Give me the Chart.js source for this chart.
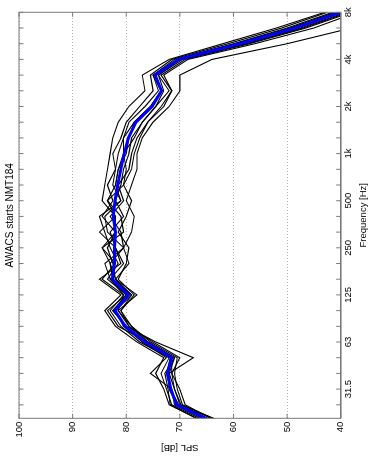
<!DOCTYPE html>
<html>
<head>
<meta charset="utf-8">
<title>AWACS starts NMT184</title>
<script src="https://cdn.jsdelivr.net/npm/chart.js@4.4.1/dist/chart.umd.min.js"></script>
<style>
  html, body { margin: 0; padding: 0; background: #fff; overflow: hidden; width: 369px; height: 456px; }
  /* The plot is laid out landscape and turned a quarter turn counter-clockwise */
  #wrap { position: absolute; left: 0; top: 0; width: 456px; height: 369px;
          transform-origin: 0 0; transform: translate(0, 456px) rotate(-90deg); }
  canvas { display: block; }
</style>
</head>
<body>
<div id="wrap"><canvas id="spl" width="456" height="369"></canvas></div>
<script>
// Third-octave band centres (Hz) and the labels shown on the frequency axis
const BAND_HZ = [20, 25, 31.5, 40, 50, 63, 80, 100, 125, 160, 200, 250, 315, 400, 500,
                 630, 800, 1000, 1250, 1600, 2000, 2500, 3150, 4000, 5000, 6300, 8000];
const BAND_LABELS = ['', '', '31.5', '', '', '63', '', '', '125', '', '', '250', '', '', '500',
                     '', '', '1k', '', '', '2k', '', '', '4k', '', '', '8k'];
const SPL_TICKS = [40, 50, 60, 70, 80, 90, 100];

// Mean spectrum (dB)
const MEAN_SPL = [64.4, 70.6, 71.7, 72.3, 71.5, 76.5, 80.2, 82.1, 79.6, 82.6, 82.2, 82.2, 82.0, 82.4, 82.1,
                  81.6, 81.0, 80.4, 79.6, 78.2, 75.2, 73.4, 74.6, 70.2, 58.8, 48.5, 40.0];

// Individual take-off runs (dB)
const RUN_01 = [65.5, 71.5, 72.5, 73.5, 72.0, 77.5, 81.0, 83.0, 80.5, 84.5, 82.0, 84.5, 82.0, 84.5, 82.5,
                83.5, 82.0, 82.5, 81.0, 80.0, 77.5, 75.0, 75.5, 71.5, 61.0, 51.0, 42.5];
const RUN_02 = [63.0, 69.5, 70.5, 71.0, 70.5, 75.5, 79.0, 81.0, 78.5, 81.5, 80.0, 79.5, 81.5, 80.0, 79.0,
                80.5, 79.0, 78.5, 77.5, 76.0, 73.0, 71.5, 73.5, 69.0, 57.0, 46.5, 38.0];
const RUN_03 = [66.0, 72.0, 73.0, 74.5, 73.0, 78.0, 82.0, 84.0, 81.0, 85.0, 81.0, 82.0, 85.0, 82.0, 84.5,
                84.0, 83.5, 83.0, 82.5, 81.5, 79.5, 76.5, 77.0, 72.0, 62.0, 52.0, 43.0];
const RUN_04 = [64.0, 70.0, 71.0, 71.5, 70.0, 75.0, 79.5, 81.5, 78.0, 82.0, 79.5, 80.5, 79.0, 78.5, 80.0,
                79.0, 78.0, 78.0, 77.0, 75.0, 72.0, 70.0, 70.0, 64.0, 50.0, 38.0, 30.0];
const RUN_05 = [62.8, 70.5, 72.0, 72.0, 67.5, 74.5, 80.0, 82.5, 80.0, 83.0, 84.0, 80.5, 83.5, 84.0, 81.0,
                82.0, 81.5, 80.0, 79.5, 78.5, 75.5, 73.5, 75.0, 70.5, 58.0, 47.5, 39.0];
const RUN_06 = [65.0, 71.0, 71.5, 75.5, 72.5, 77.0, 80.5, 82.0, 79.0, 82.5, 83.0, 84.5, 80.5, 81.0, 83.5,
                80.5, 80.0, 80.5, 78.5, 77.0, 74.5, 72.0, 74.0, 70.0, 59.5, 49.5, 41.0];
const RUN_07 = [66.2, 71.8, 72.2, 72.8, 71.0, 76.0, 81.5, 83.5, 80.0, 83.5, 81.5, 83.0, 84.0, 85.0, 81.0,
                82.5, 82.0, 81.5, 80.5, 79.5, 76.5, 74.0, 75.0, 71.0, 60.0, 50.0, 41.5];
const RUN_08 = [63.5, 69.0, 70.0, 71.5, 71.5, 76.0, 79.5, 81.0, 79.0, 82.0, 83.0, 80.5, 81.0, 83.0, 80.5,
                81.5, 79.5, 79.0, 78.0, 76.0, 73.5, 71.5, 73.0, 68.5, 56.0, 45.0, 37.0];
const RUN_09 = [64.8, 70.2, 71.8, 72.5, 71.8, 77.0, 80.0, 82.5, 79.5, 82.0, 82.5, 83.5, 82.0, 82.0, 83.5,
                82.0, 81.5, 80.5, 80.5, 78.5, 75.5, 73.5, 74.5, 70.5, 59.5, 49.0, 40.5];
const RUN_10 = [62.7, 69.8, 71.0, 72.0, 71.0, 76.0, 79.0, 81.5, 80.5, 83.0, 80.5, 82.0, 83.0, 80.5, 82.0,
                81.0, 80.5, 79.5, 79.0, 77.0, 74.5, 73.0, 74.0, 69.5, 57.5, 47.0, 38.5];

const RUNS = [RUN_01, RUN_02, RUN_03, RUN_04, RUN_05, RUN_06, RUN_07, RUN_08, RUN_09, RUN_10];

const FONT = { family: '"Liberation Sans", Arial, Helvetica, sans-serif', size: 9.5, weight: 'normal' };

// x = band index, so third-octave bands sit evenly on the axis
const toPoints = vals => vals.map((v, i) => ({ x: i, y: v }));

const datasets = [{
  label: 'mean',
  data: toPoints(MEAN_SPL),
  borderColor: '#0000ff',
  borderWidth: 3,
  pointRadius: 0,
  tension: 0,
  clip: 0,
  order: 0
}].concat(RUNS.map((run, n) => ({
  label: 'run ' + (n + 1),
  data: toPoints(run),
  borderColor: '#000000',
  borderWidth: 1.1,
  pointRadius: 0,
  tension: 0,
  clip: 0,
  order: 1
})));

// Box round the plot area with short inward tick marks on all four sides
const framePlugin = {
  id: 'frame',
  afterDatasetsDraw(chart) {
    const { ctx, chartArea: { left, right, top, bottom }, scales: { x, y } } = chart;
    const len = 4.5;
    ctx.save();
    ctx.strokeStyle = '#7a7a7a';
    ctx.lineWidth = 1;
    ctx.beginPath();
    x.ticks.forEach(t => {
      const px = x.getPixelForValue(t.value);
      ctx.moveTo(px, bottom); ctx.lineTo(px, bottom - len);
      ctx.moveTo(px, top); ctx.lineTo(px, top + len);
    });
    SPL_TICKS.forEach(v => {
      const py = y.getPixelForValue(v);
      ctx.moveTo(left, py); ctx.lineTo(left + len, py);
      ctx.moveTo(right, py); ctx.lineTo(right - len, py);
    });
    ctx.stroke();
    ctx.strokeRect(left, top, right - left, bottom - top);
    ctx.lineWidth = 1.6;
    ctx.beginPath();
    ctx.moveTo(left, bottom); ctx.lineTo(right, bottom);
    ctx.stroke();
    ctx.restore();
  }
};

new Chart(document.getElementById('spl'), {
  type: 'line',
  data: { datasets },
  plugins: [framePlugin],
  options: {
    responsive: false,
    devicePixelRatio: 1,
    animation: false,
    events: [],
    layout: { padding: { left: 0, right: 12.3, top: 0, bottom: 0 } },
    plugins: {
      legend: { display: false },
      tooltip: { enabled: false },
      title: {
        display: true,
        text: 'AWACS starts NMT184',
        color: '#000',
        fullSize: false,
        font: { family: FONT.family, size: 10, weight: 'normal' },
        padding: { top: 4, bottom: 3 }
      }
    },
    scales: {
      x: {
        type: 'linear',
        position: 'bottom',
        min: 0.14,
        max: BAND_HZ.length - 1,
        afterBuildTicks: s => {
          s.ticks = BAND_HZ.map((f, i) => ({ value: i })).filter(t => t.value >= s.min && t.value <= s.max);
        },
        afterFit: s => { s.height = 28.3; },
        ticks: {
          autoSkip: false, maxRotation: 0, minRotation: 0, padding: 2,
          color: '#000', font: FONT,
          callback: v => BAND_LABELS[v] || ''
        },
        grid: { display: false, drawTicks: false },
        border: { display: false },
        title: { display: true, text: 'Frequency [Hz]', color: '#000', font: FONT, padding: { top: 2.5, bottom: 0 } }
      },
      y: {
        type: 'linear',
        position: 'left',
        min: 40,
        max: 100,
        afterBuildTicks: s => { s.ticks = SPL_TICKS.map(v => ({ value: v })); },
        afterFit: s => { s.width = 37.7; },
        ticks: { padding: 3.4, color: '#000', font: FONT },
        grid: { color: '#b4b4b4', lineWidth: 1, drawTicks: false },
        border: { display: false, dash: [1, 2] },
        title: { display: true, text: 'SPL [dB]', color: '#000', font: FONT, padding: { top: 2.4, bottom: 0 } }
      }
    }
  }
});
</script>
</body>
</html>
